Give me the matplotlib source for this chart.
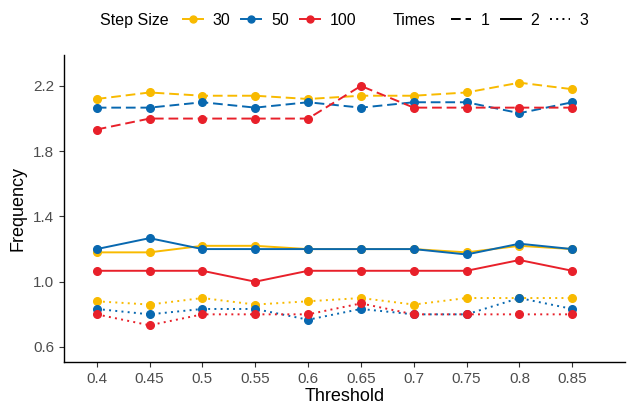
import matplotlib.pyplot as plt
from matplotlib.lines import Line2D

plt.rcParams['font.family'] = ['Liberation Sans', 'DejaVu Sans']

thresholds = [0.4, 0.45, 0.5, 0.55, 0.6, 0.65, 0.7, 0.75, 0.8, 0.85]
step_sizes = ["30", "50", "100"]
times = ["1", "2", "3"]

# Times = 1
t1_30 = [2.12, 2.16, 2.14, 2.14, 2.12, 2.14, 2.14, 2.16, 2.22, 2.18]
t1_50 = [2.067, 2.067, 2.1, 2.067, 2.1, 2.067, 2.1, 2.1, 2.033, 2.1]
t1_100 = [1.933, 2.0, 2.0, 2.0, 2.0, 2.2, 2.067, 2.067, 2.067, 2.067]
# Times = 2
t2_30 = [1.18, 1.18, 1.22, 1.22, 1.2, 1.2, 1.2, 1.18, 1.22, 1.2]
t2_50 = [1.2, 1.267, 1.2, 1.2, 1.2, 1.2, 1.2, 1.167, 1.233, 1.2]
t2_100 = [1.067, 1.067, 1.067, 1.0, 1.067, 1.067, 1.067, 1.067, 1.133, 1.067]
# Times = 3
t3_30 = [0.88, 0.86, 0.9, 0.86, 0.88, 0.9, 0.86, 0.9, 0.9, 0.9]
t3_50 = [0.833, 0.8, 0.833, 0.833, 0.767, 0.833, 0.8, 0.8, 0.9, 0.833]
t3_100 = [0.8, 0.733, 0.8, 0.8, 0.8, 0.867, 0.8, 0.8, 0.8, 0.8]

colors = {"30": "#F8BA00", "50": "#0868B0", "100": "#E8202A"}
styles = {"1": (0, (5, 2.5)), "2": "-", "3": (0, (1, 2.2))}

series = {
    ("1", "30"): t1_30, ("1", "50"): t1_50, ("1", "100"): t1_100,
    ("2", "30"): t2_30, ("2", "50"): t2_50, ("2", "100"): t2_100,
    ("3", "30"): t3_30, ("3", "50"): t3_50, ("3", "100"): t3_100,
}

fig = plt.figure(figsize=(6.27, 4.04), dpi=100)
ax = fig.add_axes([0.102, 0.104, 0.895, 0.76])

for (t, s), vals in series.items():
    ax.plot(thresholds, vals, color=colors[s], linestyle=styles[t], lw=1.4,
            marker="o", markersize=5.5, zorder=3)

ax.set_xlim(0.369, 0.9)
ax.set_ylim(0.508, 2.39)
ax.set_xticks(thresholds)
ax.set_xticklabels([f"{x:g}" for x in thresholds])
ax.set_yticks([0.6, 1.0, 1.4, 1.8, 2.2])
ax.set_yticklabels(["0.6", "1.0", "1.4", "1.8", "2.2"])
ax.tick_params(labelsize=11, labelcolor="#4D4D4D", color="#333333", length=3.5, width=0.8)
for side in ["top", "right"]:
    ax.spines[side].set_visible(False)
for side in ["left", "bottom"]:
    ax.spines[side].set_linewidth(1.0)
ax.set_xlabel("Threshold", fontsize=13, labelpad=2)
ax.set_ylabel("Frequency", fontsize=13, labelpad=5)

# legends on top
fig.text(100 / 627, 0.95, "Step Size", fontsize=11.5, va="center", ha="left")
h1 = [Line2D([], [], color=colors[s], lw=1.4, marker="o", markersize=5) for s in step_sizes]
fig.legend(h1, step_sizes, loc="center left", bbox_to_anchor=(183 / 627, 0.95), ncol=3,
           frameon=False, fontsize=11.5, handlelength=1.25, handletextpad=0.6,
           columnspacing=0.7, borderpad=0, borderaxespad=0)
fig.text(393 / 627, 0.95, "Times", fontsize=11.5, va="center", ha="left")
h2 = [Line2D([], [], color="black", lw=1.4, linestyle=styles[t]) for t in times]
fig.legend(h2, times, loc="center left", bbox_to_anchor=(451 / 627, 0.95), ncol=3,
           frameon=False, fontsize=11.5, handlelength=1.25, handletextpad=0.6,
           columnspacing=0.7, borderpad=0, borderaxespad=0)

fig.savefig("out.png", dpi=100)
